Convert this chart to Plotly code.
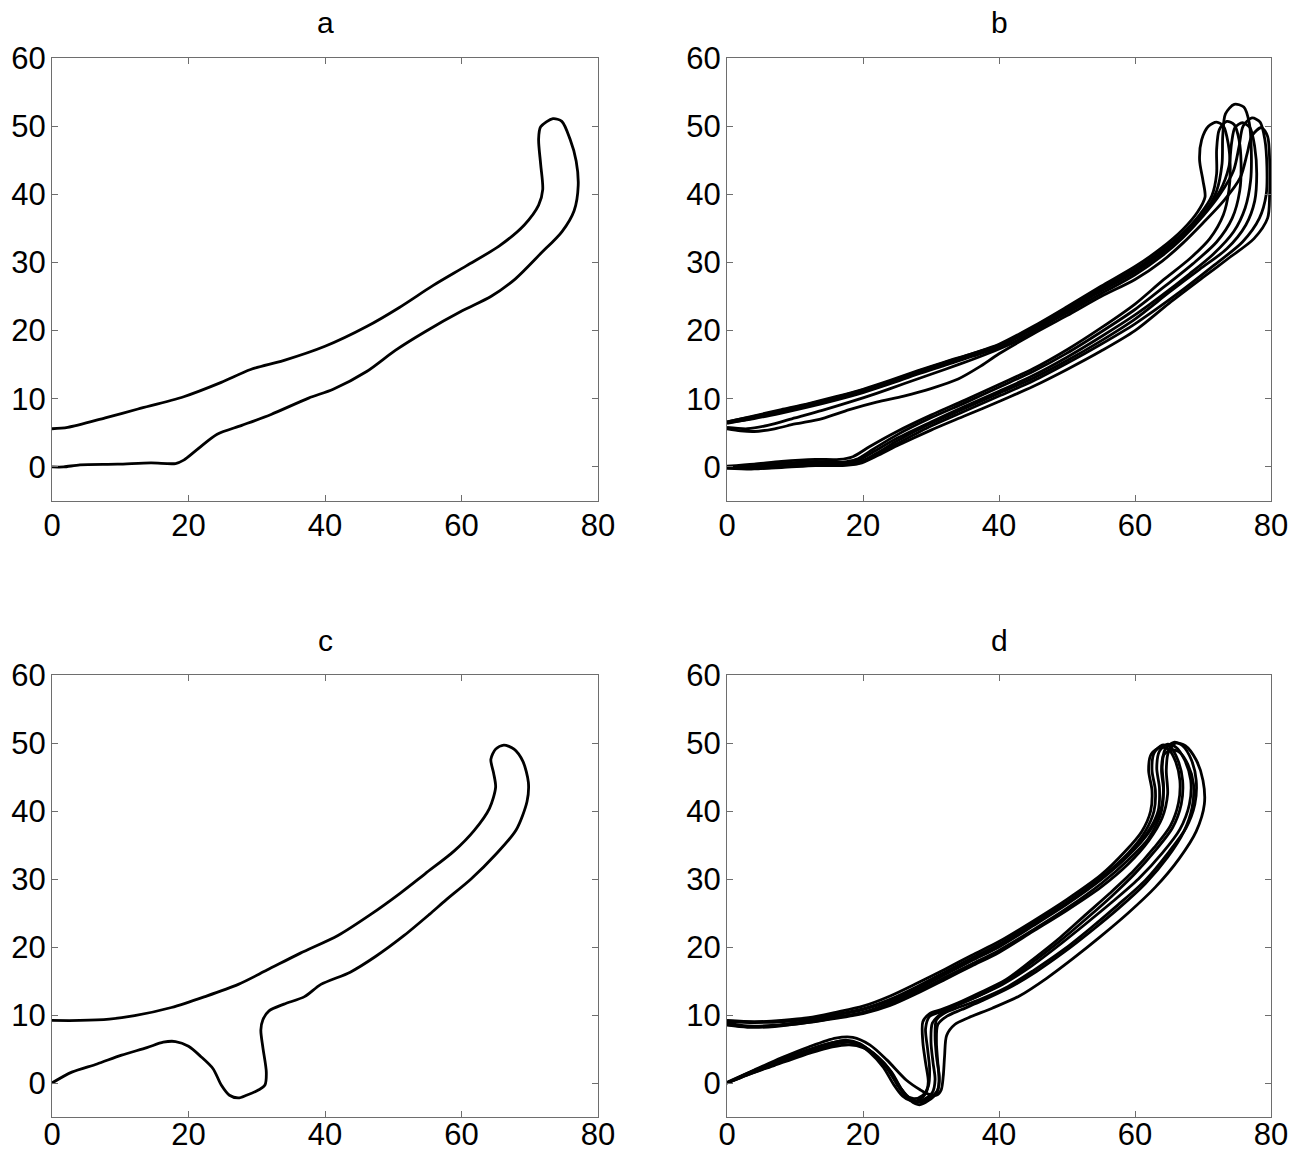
import plotly.graph_objects as go

# ---------------------------------------------------------------------------
# Trajectories (x, y) for the four panels.  Each cycle starts at the upper
# branch near x = 0, runs out to the hook, and returns along the lower branch.
# ---------------------------------------------------------------------------

# Panel a: single cycle
a_cycle = [
    (0, 5.6), (2.3, 5.8), (7.8, 7.2), (12.6, 8.5), (19.3, 10.3), (24.8, 12.4),
    (29.1, 14.3), (33.9, 15.6), (40, 17.7), (46.1, 20.6), (50.9, 23.4),
    (55.8, 26.6), (60.7, 29.5), (65.5, 32.4), (69.2, 35.5), (71.3, 38.4),
    (71.9, 40.7), (71.6, 44.4), (71.3, 48.1), (71.6, 49.9), (73.4, 51.1),
    (74.7, 50.7), (75.9, 48.1), (76.8, 44.9), (77.1, 41.3), (76.5, 37.6),
    (74.7, 34.5), (71.6, 31.3), (67.9, 27.6), (64.3, 25.0), (60.1, 22.9),
    (54.6, 19.8), (50.3, 17.1), (46.1, 14.0), (41.2, 11.4), (37.6, 10.1),
    (32.1, 7.7), (27.8, 6.1), (24.2, 4.8), (21.2, 2.5), (19.3, 1.0),
    (18.1, 0.5), (14.5, 0.6), (9.6, 0.4), (4.1, 0.3), (1.7, 0.0), (0, 0.0),
]

# Panel b: six repeated cycles
b_cycle_1 = [
    (0, 6.6), (4, 7.4), (8, 8.3), (12, 9.2), (16, 10.2), (20, 11.3), (24, 12.6),
    (28, 14.0), (32, 15.3), (36, 16.6), (40, 18.0), (45, 20.6), (50, 23.5),
    (55, 26.5), (60, 29.4), (64, 32.2), (67, 34.8), (69.2, 37.4), (70.3, 39.6),
    (70.0, 42.0), (69.5, 45.0), (69.8, 48.0), (70.8, 50.0), (72.0, 50.6),
    (73.0, 50.0), (73.7, 47.5), (74.0, 44.0), (73.8, 40.5), (73.0, 37.0),
    (71.0, 33.5), (68.0, 30.5), (64.0, 27.3), (60, 23.9), (55, 20.4),
    (50, 17.2), (45, 14.4), (40, 12.1), (35, 9.8), (30, 7.6), (25, 5.2),
    (21, 3.0), (18.5, 1.5), (16.5, 1.1), (13, 1.1), (8, 0.8), (4, 0.4), (0, 0.1),
]
b_cycle_2 = [
    (0, 6.4), (4, 7.2), (8, 8.1), (12, 9.0), (16, 10.0), (20, 11.1), (24, 12.4),
    (28, 13.8), (32, 15.1), (36, 16.4), (40, 17.8), (45, 20.4), (50, 23.3),
    (55, 26.2), (60, 29.0), (64, 31.8), (67, 34.3), (69.5, 37.0), (71.3, 39.8),
    (72.0, 43.0), (72.0, 46.5), (72.4, 49.5), (73.5, 50.7), (74.6, 50.2),
    (75.3, 48.0), (75.6, 44.5), (75.4, 40.5), (74.3, 36.5), (72.0, 33.0),
    (68.5, 29.8), (64.5, 26.6), (60, 23.1), (55, 19.8), (50, 16.7), (45, 14.0),
    (40, 11.7), (35, 9.4), (30, 7.2), (25, 4.7), (21.5, 2.6), (19, 1.1),
    (17, 0.7), (13, 0.8), (8, 0.5), (4, 0.2), (0, -0.1),
]
b_cycle_3 = [
    (0, 6.6), (4, 7.5), (8, 8.4), (12, 9.3), (16, 10.3), (20, 11.4), (24, 12.7),
    (28, 14.1), (32, 15.4), (36, 16.6), (40, 17.9), (45, 20.3), (50, 23.1),
    (55, 26.0), (60, 28.8), (64, 31.6), (67, 34.0), (70, 37.0), (72.0, 40.5),
    (72.8, 44.5), (72.9, 48.5), (73.3, 51.8), (74.6, 53.2), (76.0, 52.8),
    (76.8, 50.5), (77.1, 46.5), (77.0, 42.0), (76.2, 38.0), (74.5, 34.5),
    (71.5, 31.2), (68, 28.3), (64, 25.2), (60, 22.3), (55, 19.1), (50, 16.1),
    (45, 13.4), (40, 11.1), (35, 8.9), (30, 6.6), (25, 4.2), (21.5, 2.2),
    (19, 0.8), (17, 0.5), (13, 0.7), (8, 0.4), (4, 0.0), (0, 0.0),
]
b_cycle_4 = [
    (0, 6.5), (4, 7.1), (8, 7.9), (12, 8.8), (16, 9.8), (20, 10.9), (24, 12.2),
    (28, 13.6), (32, 14.9), (36, 16.2), (40, 17.6), (45, 20.2), (50, 22.9),
    (55, 25.8), (60, 28.6), (64, 31.4), (67, 34.0), (70, 37.2), (72.5, 40.5),
    (73.8, 44.0), (74.2, 47.5), (74.7, 49.8), (75.8, 50.5), (76.9, 49.8),
    (77.6, 47.0), (77.9, 43.0), (77.6, 39.0), (76.3, 35.5), (73.5, 32.0),
    (69.5, 29.0), (65, 25.6), (60, 21.7), (55, 18.5), (50, 15.6), (45, 13.0),
    (40, 10.8), (35, 8.6), (30, 6.4), (25, 3.8), (22, 2.0), (19.5, 0.7),
    (17, 0.4), (13, 0.5), (8, 0.2), (4, -0.2), (0, -0.1),
]
b_cycle_5 = [
    (0, 5.8), (3, 5.6), (6, 6.1), (10, 7.2), (14, 8.3), (18, 9.5), (22, 10.8),
    (26, 12.2), (30, 13.6), (34, 15.0), (38, 16.5), (42, 18.2), (46, 20.4),
    (50, 22.6), (55, 25.4), (60, 28.2), (64, 31.0), (67, 33.6), (70, 36.8),
    (72.5, 40.0), (74.5, 43.5), (75.3, 47.0), (75.9, 50.0), (77.2, 51.2),
    (78.4, 50.6), (79.1, 48.0), (79.4, 44.0), (79.3, 40.0), (78.3, 36.5),
    (75.8, 33.0), (71.5, 29.5), (66.5, 25.6), (60, 21.0), (55, 18.0),
    (50, 15.2), (45, 12.6), (40, 10.4), (35, 8.2), (30, 6.0), (25, 3.4),
    (22, 1.8), (19.5, 0.6), (17, 0.3), (13, 0.3), (8, 0.0), (4, -0.3), (0, -0.2),
]
b_cycle_6 = [
    (0, 5.6), (2, 5.3), (4, 5.2), (7, 5.6), (10, 6.3), (14, 7.1), (18, 8.4),
    (22, 9.5), (26, 10.4), (30, 11.5), (34, 12.9), (37, 14.6), (40, 16.6),
    (45, 19.5), (50, 22.2), (55, 25.0), (60, 27.5), (64, 30.2), (67, 32.8),
    (70, 35.8), (73, 39.0), (75.5, 42.5), (76.5, 46.0), (77.2, 48.6),
    (78.6, 49.8), (79.5, 48.5), (79.8, 45.0), (79.8, 40.0), (79.5, 36.5),
    (77.5, 33.5), (74.0, 30.8), (70.0, 27.8), (65, 24.0), (60, 20.0),
    (55, 17.0), (50, 14.3), (45, 11.8), (40, 9.6), (35, 7.5), (30, 5.4),
    (25, 3.1), (22, 1.6), (19.5, 0.5), (17, 0.2), (13, 0.2), (8, -0.1),
    (4, -0.2), (0, 0.0),
]

# Panel c: single cycle
c_cycle = [
    (0, 9.2), (4.1, 9.2), (8.4, 9.4), (12.1, 9.9), (17.5, 11.1), (22.4, 12.7),
    (27.3, 14.5), (31.5, 16.6), (36.4, 19.1), (41.9, 21.7), (46.7, 24.8),
    (51.0, 27.9), (54.7, 30.8), (58.9, 34.1), (61.9, 37.2), (64.1, 40.4),
    (65.0, 43.5), (64.7, 45.6), (64.3, 47.6), (65.0, 49.1), (66.2, 49.7),
    (67.7, 49.1), (69.0, 47.3), (69.8, 44.2), (69.6, 41.4), (68.0, 37.2),
    (65.0, 33.6), (61.4, 30.0), (57.7, 26.9), (55.3, 24.8), (51.6, 21.7),
    (47.4, 18.6), (43.7, 16.3), (39.4, 14.5), (37.0, 12.7), (34.0, 11.6),
    (31.8, 10.6), (30.9, 9.3), (30.6, 7.8), (30.9, 5.2), (31.4, 1.6),
    (31.2, -0.3), (30.3, -1.0), (28.5, -1.8), (27.3, -2.2), (26.0, -1.8),
    (24.8, -0.3), (23.6, 2.1), (21.8, 3.9), (20.0, 5.4), (18.1, 6.1),
    (16.3, 6.0), (13.9, 5.2), (10.2, 4.1), (6.6, 2.8), (2.9, 1.6), (0, 0),
]

# Panel d: six repeated cycles
d_cycle_1 = [
    (0, 9.2), (4, 9.0), (8, 9.1), (12, 9.5), (16, 10.1), (20, 10.9), (24, 12.3),
    (28, 14.2), (32, 16.3), (36, 18.4), (40, 20.4), (45, 23.5), (50, 26.6),
    (55, 30.2), (59, 33.8), (61.5, 37.0), (62.8, 40.0), (63.0, 43.0),
    (62.5, 46.0), (62.8, 48.5), (64.0, 49.7), (65.2, 49.4), (66.3, 47.5),
    (67.0, 44.5), (66.8, 41.0), (65.5, 37.5), (63, 34.2), (60, 30.8),
    (56.5, 27.4), (53, 24.3), (49, 20.9), (45, 17.8), (41, 14.9), (37, 12.8),
    (34, 11.5), (31.5, 10.5), (29.8, 9.8), (29.2, 8.0), (29.5, 5.0),
    (29.8, 2.0), (29.6, -0.5), (28.8, -1.8), (27.5, -2.3), (26.2, -1.8),
    (25, -0.2), (23.5, 2.2), (21.5, 4.3), (19.5, 5.8), (17.5, 6.3),
    (15, 5.8), (11, 4.5), (7, 3.0), (3, 1.4), (0, 0),
]
d_cycle_2 = [
    (0, 8.8), (3, 8.4), (7, 8.5), (12, 9.1), (16, 9.7), (20, 10.4), (24, 11.8),
    (28, 13.8), (32, 15.9), (36, 18.0), (40, 20.0), (45, 23.1), (50, 26.3),
    (55, 29.9), (59, 33.4), (62, 36.8), (63.8, 40.2), (64.2, 43.5),
    (64.0, 46.5), (64.4, 49.0), (65.7, 50.1), (67.0, 49.6), (68.3, 47.5),
    (69.0, 44.5), (68.8, 41.0), (67.5, 37.5), (65, 34.0), (61.5, 29.8),
    (57.5, 26.2), (53.5, 22.8), (49.5, 19.6), (45, 16.5), (41, 14.0),
    (37, 12.2), (34, 11.1), (32, 10.3), (30.8, 9.3), (30.6, 7.0), (30.8, 4.0),
    (31.2, 1.0), (31.0, -1.0), (29.8, -2.2), (28.3, -2.8), (27, -2.3),
    (25.5, -0.7), (24, 1.8), (22, 4.0), (20, 5.4), (18, 6.0), (15.5, 5.6),
    (11, 4.3), (7, 2.8), (3, 1.3), (0, 0),
]
d_cycle_3 = [
    (0, 8.6), (3, 8.3), (7, 8.4), (12, 8.9), (16, 9.5), (20, 10.2), (24, 11.4),
    (28, 13.2), (32, 15.2), (36, 17.2), (40, 19.2), (45, 22.3), (50, 25.4),
    (55, 28.8), (59, 32.2), (62, 35.6), (64, 39.0), (64.8, 42.5), (64.6, 46.0),
    (64.9, 48.6), (66.0, 50.0), (67.4, 49.6), (69.0, 47.5), (70.0, 44.5),
    (70.2, 41.0), (69.0, 37.0), (66.5, 33.0), (63, 28.8), (59, 25.0),
    (55, 21.6), (51, 18.4), (47, 15.4), (43, 12.8), (39, 11.0), (35.5, 9.6),
    (33.5, 8.6), (32.3, 7.0), (32.0, 4.0), (31.8, 1.0), (31.5, -1.0),
    (30.8, -1.8), (29.5, -1.6), (28.4, -1.0), (26.4, 0.4), (23.5, 3.4),
    (21, 5.6), (18.5, 6.7), (16, 6.6), (12, 5.3), (8, 3.7), (4, 1.9), (0, 0.1),
]
d_cycle_4 = [
    (0, 9.0), (4, 8.9), (8, 9.0), (12, 9.4), (16, 10.0), (20, 10.8), (24, 12.1),
    (28, 14.0), (32, 16.1), (36, 18.1), (40, 20.2), (45, 23.3), (50, 26.5),
    (55, 30.0), (59, 33.6), (61.8, 36.8), (63.4, 40.0), (63.6, 43.3),
    (63.2, 46.3), (63.6, 48.8), (64.7, 49.8), (66.0, 49.4), (67.3, 47.5),
    (68.2, 44.5), (68.0, 41.0), (66.6, 37.3), (64, 33.8), (60.5, 30.0),
    (56.5, 26.5), (52.5, 23.2), (48.5, 20.0), (44.5, 17.0), (40.5, 14.5),
    (36.5, 12.6), (33.5, 11.3), (31.5, 10.2), (30.2, 8.8), (30.0, 6.0),
    (30.3, 3.0), (30.6, 0.5), (30.2, -1.4), (29.0, -2.4), (27.8, -2.7),
    (26.5, -2.0), (25.2, -0.4), (23.8, 2.0), (21.8, 4.1), (19.8, 5.5),
    (17.8, 6.0), (15.3, 5.6), (11, 4.2), (7, 2.7), (3, 1.2), (0, 0),
]
d_cycle_5 = [
    (0, 8.5), (3, 8.2), (7, 8.3), (12, 8.9), (16, 9.6), (20, 10.3), (24, 11.6),
    (28, 13.5), (32, 15.5), (36, 17.5), (40, 19.5), (45, 22.5), (50, 25.7),
    (55, 29.3), (59, 32.8), (62, 36.0), (63.8, 39.6), (64.2, 43.0),
    (63.9, 46.0), (64.2, 48.2), (65.3, 49.0), (66.6, 48.6), (67.8, 46.8),
    (68.6, 44.0), (68.4, 40.5), (67.2, 37.0), (64.8, 33.2), (61.5, 29.3),
    (57.5, 25.6), (53.5, 22.3), (49.5, 19.2), (45.5, 16.4), (41.5, 14.0),
    (37.5, 12.1), (34.5, 10.8), (32.3, 9.8), (31.0, 8.6), (30.8, 6.0),
    (31.0, 3.0), (31.2, 0.2), (30.8, -1.5), (29.6, -2.6), (28.3, -3.2),
    (27.0, -2.6), (25.6, -0.8), (24.2, 1.6), (22.2, 3.8), (20, 5.2),
    (18, 5.6), (15.5, 5.3), (11, 4.0), (7, 2.6), (3, 1.2), (0, 0),
]
d_cycle_6 = [
    (0, 9.1), (4, 9.0), (8, 9.2), (12, 9.6), (16, 10.4), (20, 11.3), (24, 12.8),
    (28, 14.7), (32, 16.7), (36, 18.8), (40, 20.8), (45, 23.8), (50, 27.0),
    (55, 30.6), (58.5, 34.0), (61, 37.0), (62.3, 40.0), (62.5, 43.0),
    (62.0, 46.0), (62.4, 48.4), (63.8, 49.4), (65.0, 49.0), (66.0, 47.2),
    (66.6, 44.5), (66.4, 41.2), (65.2, 37.8), (62.8, 34.6), (59.8, 31.2),
    (56.3, 27.9), (52.8, 24.8), (49, 21.4), (45, 18.2), (41, 15.2),
    (37, 13.2), (34, 11.8), (31.5, 10.8), (29.8, 10.2), (28.8, 9.0),
    (28.8, 6.0), (29.2, 3.0), (29.6, 0.2), (29.2, -1.6), (28.2, -2.5),
    (27.0, -2.6), (25.8, -1.9), (24.5, -0.2), (23, 2.3), (21, 4.5),
    (19, 5.9), (17, 6.2), (14.5, 5.7), (10.5, 4.4), (6.5, 2.9), (3, 1.4), (0, 0),
]

panel_titles = ["a", "b", "c", "d"]
x_ticks = [0, 20, 40, 60, 80]
y_ticks = [0, 10, 20, 30, 40, 50, 60]
x_range = [0, 80]
y_range = [-5, 60]

panels = [
    [a_cycle],
    [b_cycle_1, b_cycle_2, b_cycle_3, b_cycle_4, b_cycle_5, b_cycle_6],
    [c_cycle],
    [d_cycle_1, d_cycle_2, d_cycle_3, d_cycle_4, d_cycle_5, d_cycle_6],
]

# ---------------------------------------------------------------------------
# Layout geometry (paper fractions)
# ---------------------------------------------------------------------------
W, H = 1293, 1153
col_domains = [[52 / W, 598 / W], [727 / W, 1271 / W]]
row_domains = [[1 - 501 / H, 1 - 58 / H], [1 - 1117 / H, 1 - 675 / H]]
title_y = [1 - 22 / H, 1 - 640 / H]
# x tick labels of the lower row sit a little tighter so they stay on the page
x_label_standoff = [-3, -10]

FONT = "Liberation Sans, Arial, sans-serif"
AXIS_GRAY = "#6e6e6e"
TICK_SIZE = 31

fig = go.Figure()
layout = dict(
    template="none",
    width=W, height=H,
    margin=dict(l=0, r=0, t=0, b=0, pad=0),
    paper_bgcolor="white", plot_bgcolor="white",
    showlegend=False,
    font=dict(family=FONT, size=TICK_SIZE, color="black"),
    annotations=[],
)

for i, cycles in enumerate(panels):
    row, col = divmod(i, 2)
    n = i + 1
    xname = "x" if n == 1 else f"x{n}"
    yname = "y" if n == 1 else f"y{n}"
    for cyc in cycles:
        fig.add_trace(go.Scatter(
            x=[p[0] for p in cyc], y=[p[1] for p in cyc],
            mode="lines",
            line=dict(color="black", width=2.8, shape="spline", smoothing=0.8),
            xaxis=xname, yaxis=yname, hoverinfo="skip",
        ))
    axis_common = dict(
        automargin=False,
        showgrid=False, zeroline=False,
        showline=True, linecolor=AXIS_GRAY, linewidth=1,
        mirror="ticks", ticks="inside", ticklen=6, tickwidth=1,
        tickcolor=AXIS_GRAY,
        tickfont=dict(family=FONT, size=TICK_SIZE, color="black"),
    )
    layout["xaxis" if n == 1 else f"xaxis{n}"] = dict(
        axis_common, domain=col_domains[col], range=x_range,
        tickmode="array", tickvals=x_ticks, anchor=yname,
        ticklabelstandoff=x_label_standoff[row],
    )
    layout["yaxis" if n == 1 else f"yaxis{n}"] = dict(
        axis_common, domain=row_domains[row], range=y_range,
        tickmode="array", tickvals=y_ticks, anchor=xname,
        ticklabelstandoff=-1,
    )
    layout["annotations"].append(dict(
        text=panel_titles[i], xref="paper", yref="paper",
        x=sum(col_domains[col]) / 2, y=title_y[row],
        xanchor="center", yanchor="middle", showarrow=False,
        font=dict(family=FONT, size=30, color="black"),
    ))

fig.update_layout(**layout)
fig.write_html("out.html")
